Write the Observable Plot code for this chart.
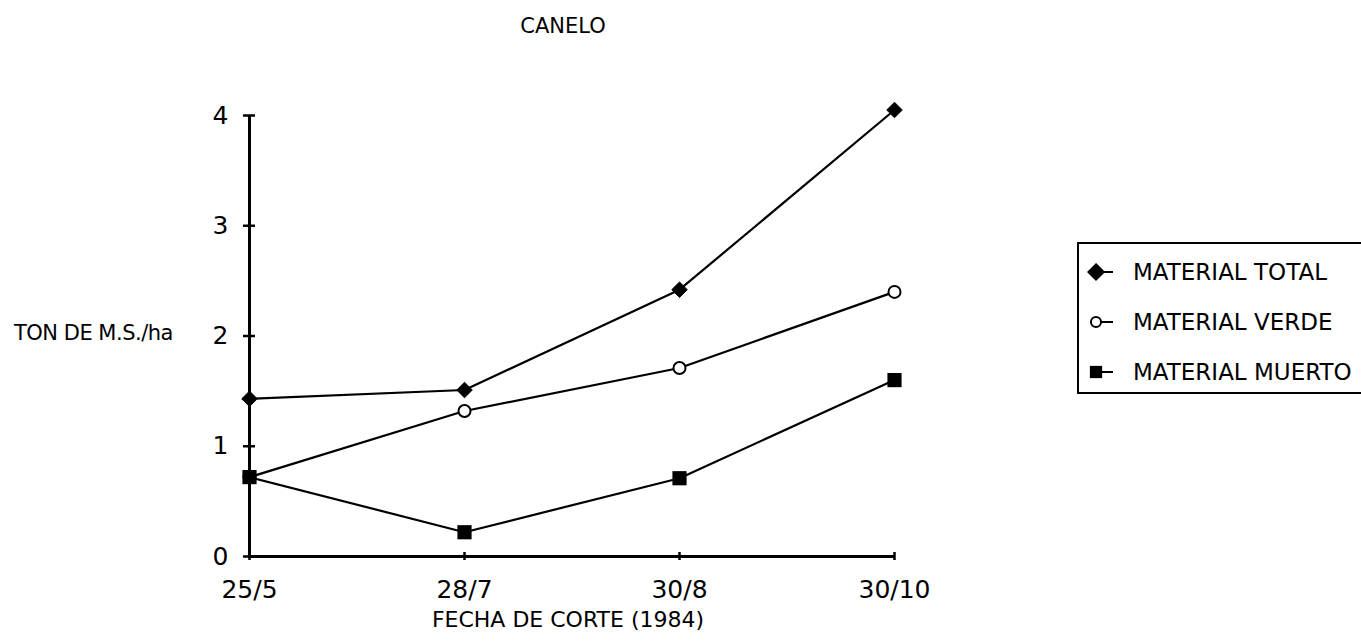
<!DOCTYPE html>
<html>
<head>
<meta charset="utf-8">
<script src="https://cdn.jsdelivr.net/npm/d3@7"></script>
<script src="https://cdn.jsdelivr.net/npm/@observablehq/plot@0.6"></script>
<style>
  html, body { margin: 0; padding: 0; background: #fff; }
  #wrap { position: relative; width: 1361px; height: 641px; overflow: hidden; background: #fff; font-family: "DejaVu Sans", sans-serif; color: #000; }
  #chart { position: absolute; left: 0; top: 0; }
  .lbl { position: absolute; white-space: nowrap; color: #000; font-family: "DejaVu Sans", sans-serif; }
  #legend { position: absolute; left: 1077px; top: 242px; width: 320px; height: 152px; border: 2px solid #000; box-sizing: border-box; }
  .item { position: absolute; left: 0; height: 30px; display: flex; align-items: center; font-size: 23px; white-space: nowrap; }
  .item svg { margin-left: 8px; margin-right: 18px; }
</style>
</head>
<body>
<div id="wrap">
  <div id="chart"></div>
  <div class="lbl" id="title" style="left:563px; top:14px; transform:translateX(-50%); font-size:21px;">CANELO</div>
  <div class="lbl" id="ylab" style="left:14px; top:321px; font-size:21px; letter-spacing:-0.5px;">TON DE M.S./ha</div>
  <div class="lbl" id="xlab" style="left:568px; top:607px; transform:translateX(-50%); font-size:22px;">FECHA DE CORTE (1984)</div>
  <div id="legend"></div>
</div>
<script>
// ---- data ----
const dates = ["25/5", "28/7", "30/8", "30/10"];
const total = [1.43, 1.51, 2.42, 4.05];
const verde = [0.72, 1.32, 1.71, 2.40];
const muerto = [0.72, 0.22, 0.71, 1.60];
const yTicks = [0, 1, 2, 3, 4];
const seriesNames = ["MATERIAL TOTAL", "MATERIAL VERDE", "MATERIAL MUERTO"];

const toRows = (vals, name) => dates.map((d, i) => ({date: d, value: vals[i], series: name}));
const rowsTotal = toRows(total, seriesNames[0]);
const rowsVerde = toRows(verde, seriesNames[1]);
const rowsMuerto = toRows(muerto, seriesNames[2]);

const plot = Plot.plot({
  width: 1361,
  height: 641,
  marginLeft: 248,
  marginRight: 466,
  marginTop: 115,
  marginBottom: 85,
  style: {fontFamily: "DejaVu Sans, sans-serif", color: "#000", background: "transparent"},
  x: {type: "point", domain: dates, padding: 0},
  y: {domain: [0, 4]},
  marks: [
    Plot.axisY(yTicks, {tickSize: 0, tickPadding: 20, fontSize: 25, label: null, tickFormat: d => String(d)}),
    Plot.axisX(dates, {tickSize: 0, tickPadding: 24, fontSize: 25, label: null}),
    Plot.ruleX([dates[0]], {stroke: "#000", strokeWidth: 3}),
    Plot.ruleY([0], {stroke: "#000", strokeWidth: 3}),
    Plot.ruleY(yTicks, {y: d => d, x1: () => dates[0], x2: () => dates[0], insetLeft: -6, insetRight: -6, stroke: "#000", strokeWidth: 2.5}),
    Plot.ruleX(dates, {x: d => d, y1: () => 0, y2: () => 0, insetTop: -4, insetBottom: -4, stroke: "#000", strokeWidth: 2.5}),
    Plot.line(rowsTotal, {x: "date", y: "value", stroke: "#000", strokeWidth: 2.2}),
    Plot.line(rowsVerde, {x: "date", y: "value", stroke: "#000", strokeWidth: 2.2}),
    Plot.line(rowsMuerto, {x: "date", y: "value", stroke: "#000", strokeWidth: 2.2}),
    Plot.dot(rowsVerde, {x: "date", y: "value", symbol: "circle", r: 6, fill: "#fff", stroke: "#000", strokeWidth: 2}),
    Plot.dot(rowsTotal, {x: "date", y: "value", symbol: "diamond2", r: 7, fill: "#000", stroke: "#000", strokeWidth: 1}),
    Plot.dot(rowsMuerto, {x: "date", y: "value", symbol: "square", r: 8, fill: "#000", stroke: "none"})
  ]
});
document.getElementById("chart").appendChild(plot);

// ---- legend ----
const legendSymbols = [
  {type: d3.symbolDiamond2, size: 150, fill: "#000", stroke: "#000"},
  {type: d3.symbolCircle, size: 80, fill: "#fff", stroke: "#000"},
  {type: d3.symbolSquare, size: 150, fill: "#000", stroke: "none"}
];
const legendTops = [13, 63, 113];
const legend = d3.select("#legend");
seriesNames.forEach((name, i) => {
  const item = legend.append("div").attr("class", "item").style("top", legendTops[i] + "px");
  const svg = item.append("svg").attr("width", 28).attr("height", 24);
  svg.append("line").attr("x1", 14).attr("x2", 26).attr("y1", 12).attr("y2", 12).attr("stroke", "#000").attr("stroke-width", 2);
  const s = legendSymbols[i];
  svg.append("path").attr("transform", "translate(9,12)")
    .attr("d", d3.symbol(s.type, s.size)())
    .attr("fill", s.fill).attr("stroke", s.stroke).attr("stroke-width", 2);
  item.append("span").text(name);
});
</script>
</body>
</html>
